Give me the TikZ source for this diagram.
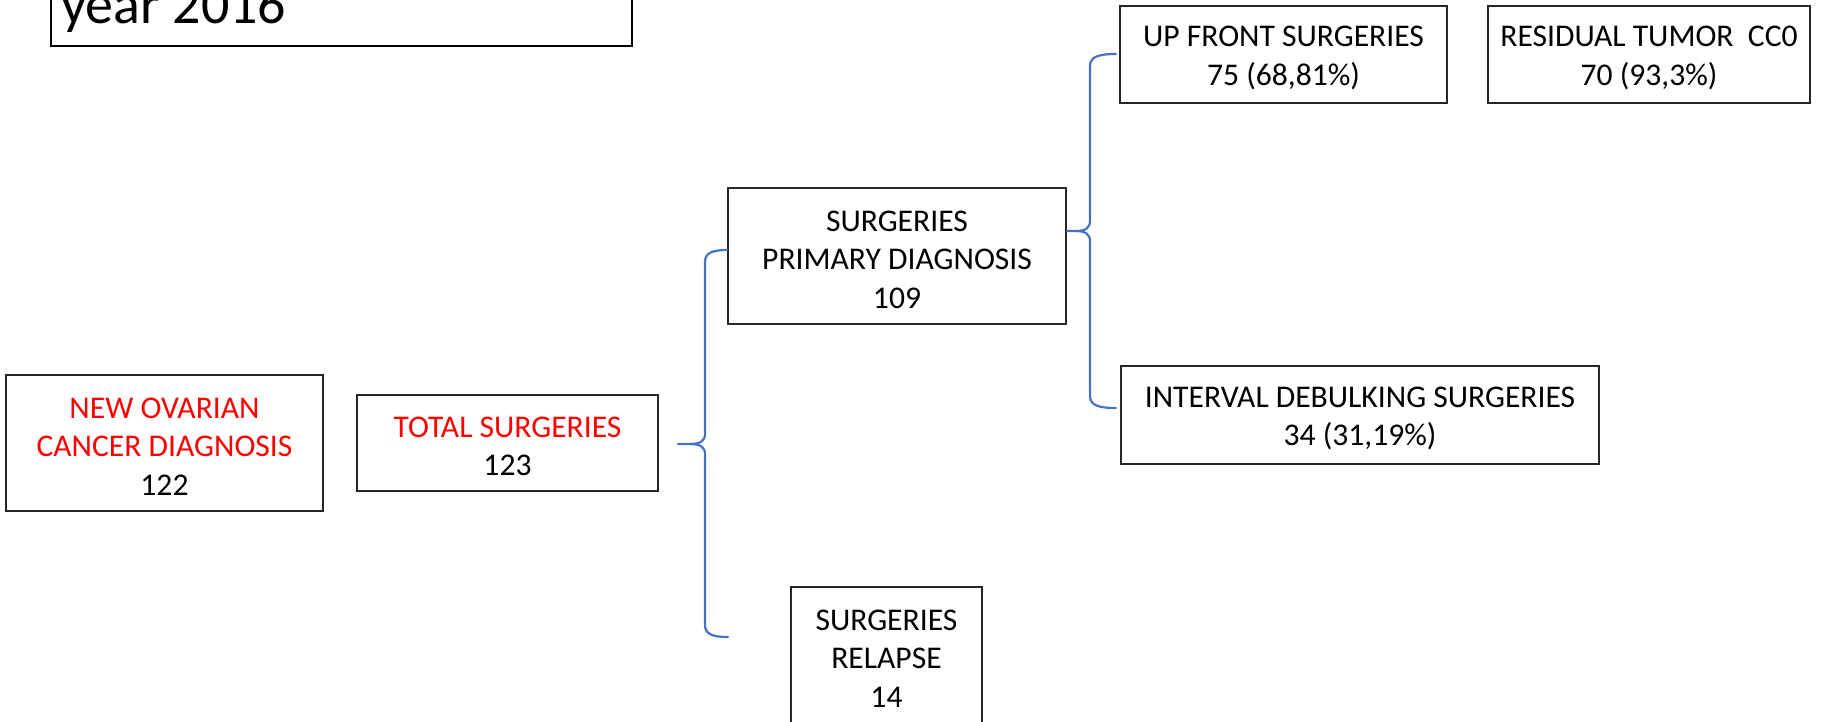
\documentclass[tikz,border=0pt]{standalone}
\usepackage{fontspec}
\setmainfont{Carlito}
\usetikzlibrary{calc}
\definecolor{braceblue}{RGB}{68,114,196}
\definecolor{labelred}{RGB}{255,0,0}
% taller first line, so each box's text sits a little lower
\newcommand{\lnstrut}{\rule{0pt}{27.5pt}}
\begin{document}
\begin{tikzpicture}[x=1pt,y=-1pt,
  box/.style={draw=black!85, line width=1.6pt, align=center, inner sep=0pt,
              font=\fontsize{31.6}{38.6}\selectfont},
  brace/.style={draw=braceblue, line width=2.2pt, line join=round, line cap=round}]
\useasboundingbox (0,0) rectangle (1833,721);
\clip (0,0) rectangle (1833,721);

% title box
\node[draw=black, line width=1.6pt, minimum width=581pt, minimum height=120pt,
      anchor=south west, inner sep=0pt] (titlebox) at (50,47) {};
\node[anchor=base west, inner sep=0pt, font=\fontsize{56}{67}\selectfont] (titletext) at (61,23) {year 2016};

% boxes
\node[box, minimum width=317pt, minimum height=136pt] (neworv) at (164.5,443)
  {\lnstrut\textcolor{labelred}{NEW OVARIAN}\\\textcolor{labelred}{CANCER DIAGNOSIS}\\122};
\node[box, minimum width=301pt, minimum height=96pt] (total) at (507.5,443)
  {\lnstrut\textcolor{labelred}{TOTAL SURGERIES}\\123};
\node[box, minimum width=338pt, minimum height=136pt] (primary) at (897,256)
  {\lnstrut SURGERIES\\PRIMARY DIAGNOSIS\\109};
\node[box, minimum width=191pt, minimum height=136pt] (relapse) at (886.5,655)
  {\lnstrut SURGERIES\\RELAPSE\\14};
\node[box, minimum width=327pt, minimum height=97pt] (upfront) at (1283.5,54.5)
  {\lnstrut UP FRONT SURGERIES\\75 (68,81\%)};
\node[box, minimum width=322pt, minimum height=97pt] (residual) at (1649,54.5)
  {\lnstrut RESIDUAL TUMOR\ \ CC0\\70 (93,3\%)};
\node[box, minimum width=478pt, minimum height=98pt] (interval) at (1360,415)
  {\lnstrut INTERVAL DEBULKING SURGERIES\\34 (31,19\%)};

% brace: total surgeries -> primary / relapse
\coordinate (b1tip) at (678,444);
\coordinate (b1top) at ($(primary.west)+(0,-6)$);
\coordinate (b1bot) at (728,637);
\draw[brace] (b1top) .. controls (712,250) and (705,253) .. (705,262) -- (705,434)
  .. controls (705,441) and (700,444) .. (690,444) -- (b1tip);
\draw[brace] (690,444) .. controls (700,444) and (705,447) .. (705,454) -- (705,625)
  .. controls (705,634) and (712,637) .. (b1bot);

% brace: primary diagnosis -> up front / interval
\coordinate (b2tip) at ($(primary.east)+(0,-25)$);
\coordinate (b2top) at (1116,54);
\coordinate (b2bot) at (1116,408);
\draw[brace] (b2top) .. controls (1098,54) and (1090,57) .. (1090,66) -- (1090,221)
  .. controls (1090,228) and (1085,231) .. (1076,231) -- (b2tip);
\draw[brace] (1076,231) .. controls (1085,231) and (1090,234) .. (1090,241) -- (1090,396)
  .. controls (1090,405) and (1098,408) .. (b2bot);
\end{tikzpicture}
\end{document}
